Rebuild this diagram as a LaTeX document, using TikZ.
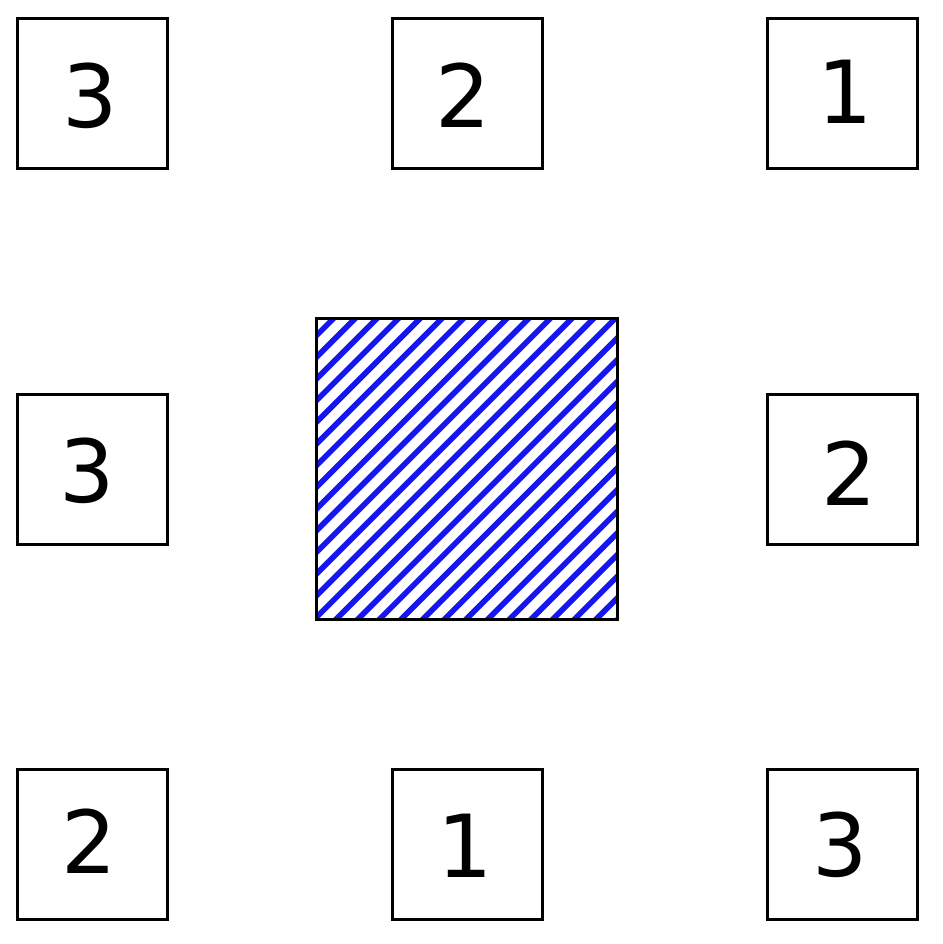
\documentclass[tikz,border=0pt]{standalone}
\usepackage{fontspec}
\setmainfont{DejaVu Sans}
\definecolor{hatchblue}{RGB}{22,22,240}
\begin{document}
\begin{tikzpicture}[x=1pt,y=-1pt,
  cell/.style={draw=black,line width=3pt,minimum size=150pt,inner sep=0pt,fill=white},
  digit/.style={inner sep=0pt,font=\fontsize{87}{87}\selectfont},
  hatchline/.style={draw=hatchblue,line width=5.6pt}]
\useasboundingbox (0,0) rectangle (942,944);
% small boxes
\node[cell] (b11) at (92,94) {};
\node[cell] (b12) at (467,94) {};
\node[cell] (b13) at (842,94) {};
\node[cell] (b21) at (92,469) {};
\node[cell] (b23) at (842,469) {};
\node[cell] (b31) at (92,844) {};
\node[cell] (b32) at (467,844) {};
\node[cell] (b33) at (842,844) {};
% digits
\node[digit] (d11) at (90,95.5) {3};
\node[digit] (d12) at (463.5,95.5) {2};
\node[digit] (d13) at (845,91.5) {1};
\node[digit] (d21) at (87.5,471) {3};
\node[digit] (d23) at (849,473.5) {2};
\node[digit] (d31) at (89,841) {2};
\node[digit] (d32) at (465,846) {1};
\node[digit] (d33) at (840,845) {3};
% central hatched square
\node[minimum size=300pt,inner sep=0pt] (c) at (467,469) {};
\begin{scope}
  \clip (c.north west) rectangle (c.south east);
  \foreach \k in {-1,...,28}{
    \pgfmathsetmacro{\cc}{652+21.67*\k}
    \draw[hatchline] ({\cc-629},629) -- ({\cc-309},309);
  }
\end{scope}
\draw[line width=3pt] (c.north west) rectangle (c.south east);
\end{tikzpicture}
\end{document}
